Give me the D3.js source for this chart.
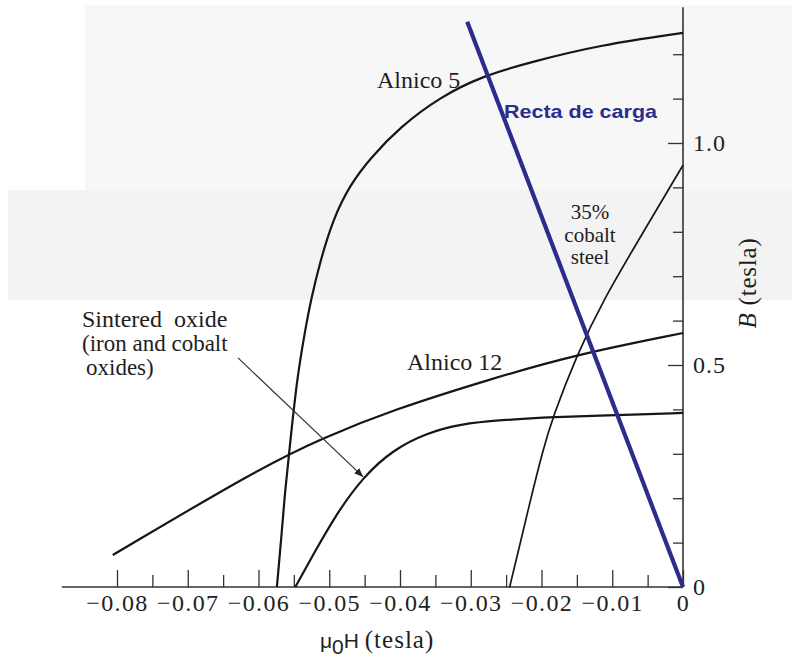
<!DOCTYPE html>
<html>
<head>
<meta charset="utf-8">
<script src="https://cdn.jsdelivr.net/npm/d3@7"></script>
<style>
  html, body { margin: 0; padding: 0; background: #ffffff; }
  svg { display: block; }
</style>
</head>
<body>
<svg id="chart" width="792" height="669"></svg>
<script>
// ---- data (mu0H in tesla, B in tesla) ----
const alnico5H = [-0.0574, -0.0568, -0.0563, -0.0557, -0.0546, -0.0534, -0.0526, -0.0513, -0.0495, -0.0471, -0.0442, -0.0400, -0.0343, -0.0283, -0.0216, -0.0117, 0];
const alnico5B = [0, 0.106, 0.207, 0.297, 0.466, 0.579, 0.646, 0.732, 0.827, 0.905, 0.966, 1.036, 1.104, 1.151, 1.182, 1.221, 1.248];

const alnico12H = [-0.0806, -0.0598, -0.0509, -0.0410, -0.0277, -0.0153, 0];
const alnico12B = [0.072, 0.268, 0.336, 0.399, 0.466, 0.523, 0.572];

const sinteredH = [-0.0548, -0.0523, -0.0489, -0.0452, -0.0410, -0.0362, -0.0315, -0.0259, -0.0181, -0.0099, 0];
const sinteredB = [0, 0.072, 0.167, 0.248, 0.309, 0.347, 0.367, 0.376, 0.383, 0.387, 0.392];

const cobaltH = [-0.0245, -0.0233, -0.0220, -0.0198, -0.0184, -0.0150, -0.0113, -0.0057, 0];
const cobaltB = [0, 0.079, 0.167, 0.309, 0.383, 0.523, 0.646, 0.797, 0.950];

const loadLineH = [0, -0.0305];
const loadLineB = [0, 1.273];

const xMajorTicks = [-0.08, -0.07, -0.06, -0.05, -0.04, -0.03, -0.02, -0.01, 0];
const xTickLabels = ["\u22120.08", "\u22120.07", "\u22120.06", "\u22120.05", "\u22120.04", "\u22120.03", "\u22120.02", "\u22120.01", "0"];
const xMinorTicks = [-0.075, -0.065, -0.055, -0.045, -0.035, -0.025, -0.015, -0.005];
const yMajorTicks = [0, 0.5, 1.0];
const yTickLabels = ["0", "0.5", "1.0"];
const yMinorTicks = [0.1, 0.2, 0.3, 0.4, 0.6, 0.7, 0.8, 0.9, 1.1, 1.2];

const arrowFrom = [-0.0629, 0.516];
const arrowTo = [-0.0452, 0.248];

// ---- scales ----
const x = d3.scaleLinear().domain([-0.08, 0]).range([117, 683]);
const y = d3.scaleLinear().domain([0, 1.0]).range([587, 143]);
const xMin = -0.0878, yMax = 1.306;

const svg = d3.select("#chart");
const serif = "'Liberation Serif', 'Times New Roman', serif";
const sans = "'Liberation Sans', Arial, sans-serif";

// faint scanned-page background
svg.append("rect").attr("x", 85).attr("y", 5).attr("width", 707).attr("height", 295).attr("fill", "#f7f7f7");
svg.append("rect").attr("x", 8).attr("y", 190).attr("width", 784).attr("height", 110).attr("fill", "#f3f3f3");

// ---- axes ----
const xAxisMajor = d3.axisBottom(x).tickValues(xMajorTicks)
  .tickFormat((d, i) => xTickLabels[i]).tickSize(-17).tickSizeOuter(0).tickPadding(7);
const xAxisMinor = d3.axisBottom(x).tickValues(xMinorTicks)
  .tickFormat("").tickSize(-12).tickSizeOuter(0);

const gx1 = svg.append("g").attr("transform", `translate(0,${y(0)})`).call(xAxisMajor);
const gx2 = svg.append("g").attr("transform", `translate(0,${y(0)})`).call(xAxisMinor);
[gx1, gx2].forEach(g => {
  g.select(".domain").remove();
  g.selectAll("line").attr("stroke", "#333").attr("stroke-width", 1.3);
});
gx1.selectAll("text").attr("font-family", serif).attr("font-size", 24)
  .attr("letter-spacing", "1.4px").attr("fill", "#222");

const yAxisMajor = d3.axisRight(y).tickValues(yMajorTicks)
  .tickFormat((d, i) => yTickLabels[i]).tickSize(-15).tickSizeOuter(0).tickPadding(10);
const yAxisMinor = d3.axisRight(y).tickValues(yMinorTicks)
  .tickFormat("").tickSize(-10).tickSizeOuter(0);
const gy1 = svg.append("g").attr("transform", `translate(${x(0)},0)`).call(yAxisMajor);
const gy2 = svg.append("g").attr("transform", `translate(${x(0)},0)`).call(yAxisMinor);
[gy1, gy2].forEach(g => {
  g.select(".domain").remove();
  g.selectAll("line").attr("stroke", "#333").attr("stroke-width", 1.3);
});
gy1.selectAll("text").attr("font-family", serif).attr("font-size", 24)
  .attr("letter-spacing", "1px").attr("fill", "#222");

// axis lines
svg.append("line").attr("x1", x(xMin)).attr("x2", x(0)).attr("y1", y(0)).attr("y2", y(0))
  .attr("stroke", "#333").attr("stroke-width", 1.6);
svg.append("line").attr("x1", x(0)).attr("x2", x(0)).attr("y1", y(0)).attr("y2", y(yMax))
  .attr("stroke", "#333").attr("stroke-width", 1.6);

// ---- curves ----
const line = d3.line().x(d => x(d[0])).y(d => y(d[1])).curve(d3.curveBasis);
function drawCurve(hs, bs, w) {
  svg.append("path").datum(hs.map((h, i) => [h, bs[i]]))
    .attr("d", line).attr("fill", "none").attr("stroke", "#161616").attr("stroke-width", w);
}
drawCurve(alnico5H, alnico5B, 2.2);
drawCurve(alnico12H, alnico12B, 2.2);
drawCurve(sinteredH, sinteredB, 2.2);
drawCurve(cobaltH, cobaltB, 1.7);

// annotation arrow
svg.append("defs").append("marker").attr("id", "ah").attr("viewBox", "0 0 10 10")
  .attr("refX", 10).attr("refY", 5).attr("markerWidth", 9).attr("markerHeight", 9)
  .attr("markerUnits", "userSpaceOnUse").attr("orient", "auto")
  .append("path").attr("d", "M0,1 L10,5 L0,9 Z").attr("fill", "#222");
svg.append("line").attr("x1", x(arrowFrom[0])).attr("y1", y(arrowFrom[1]))
  .attr("x2", x(arrowTo[0])).attr("y2", y(arrowTo[1]))
  .attr("stroke", "#333").attr("stroke-width", 1.2).attr("marker-end", "url(#ah)");

// load line
svg.append("path").datum(loadLineH.map((h, i) => [h, loadLineB[i]]))
  .attr("d", d3.line().x(d => x(d[0])).y(d => y(d[1])))
  .attr("fill", "none").attr("stroke", "#2b2c8c").attr("stroke-width", 4.2);

// ---- labels ----
function label(txt, px, py, anchor, size) {
  svg.append("text").attr("x", px).attr("y", py).attr("text-anchor", anchor || "start")
    .attr("font-family", serif).attr("font-size", size || 23).attr("fill", "#1e1e1e").text(txt);
}
label("Alnico 5", 377, 88, "start", 24);
label("Alnico 12", 407, 370, "start", 24);
label("35%", 590, 219, "middle", 21);
label("cobalt", 590, 242, "middle", 21);
label("steel", 590, 264, "middle", 21);
label("Sintered\u00a0\u00a0oxide", 82, 327, "start", 24);
label("(iron and cobalt", 82, 351, "start", 23);
label("oxides)", 86, 375, "start", 23);

svg.append("text").attr("x", 504).attr("y", 118)
  .attr("font-family", sans).attr("font-weight", "bold").attr("font-size", 19)
  .attr("fill", "#2b2c8c").attr("textLength", 153).attr("lengthAdjust", "spacingAndGlyphs")
  .text("Recta de carga");

// x axis title
const xt = svg.append("text").attr("x", 320).attr("y", 648).attr("fill", "#1e1e1e");
xt.append("tspan").attr("font-family", sans).attr("font-size", 21).text("\u03bc");
xt.append("tspan").attr("font-family", sans).attr("font-size", 21).attr("dy", 6).text("0");
xt.append("tspan").attr("font-family", sans).attr("font-size", 21).attr("dy", -6).text("H ");
xt.append("tspan").attr("font-family", serif).attr("font-size", 25).attr("letter-spacing", "1px").text("(tesla)");

// y axis title
const yt = svg.append("text").attr("transform", "translate(756,283) rotate(-90)")
  .attr("text-anchor", "middle").attr("font-family", serif).attr("font-size", 25)
  .attr("letter-spacing", "0.8px").attr("fill", "#1e1e1e");
yt.append("tspan").attr("font-style", "italic").text("B");
yt.append("tspan").text(" (tesla)");
</script>
</body>
</html>
